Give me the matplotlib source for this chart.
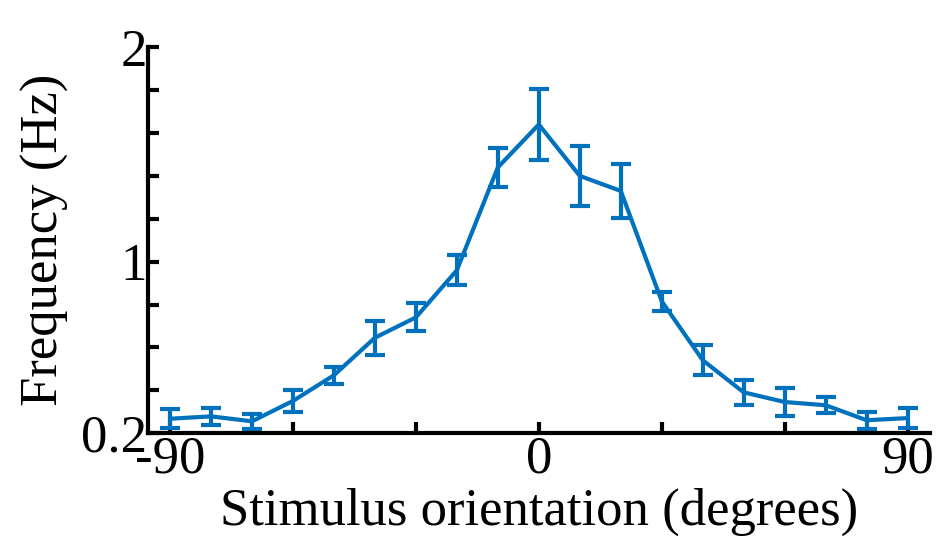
import matplotlib
matplotlib.use("Agg")
import matplotlib.pyplot as plt
import numpy as np

orientation = [-90, -80, -70, -60, -50, -40, -30, -20, -10, 0, 10, 20, 30, 40, 50, 60, 70, 80, 90]
frequency = [0.267, 0.278, 0.255, 0.35, 0.47, 0.645, 0.74, 0.96, 1.44, 1.64, 1.40, 1.33, 0.815, 0.54, 0.39, 0.345, 0.33, 0.26, 0.27]
err = [0.045, 0.04, 0.035, 0.05, 0.04, 0.08, 0.065, 0.07, 0.09, 0.165, 0.14, 0.125, 0.045, 0.07, 0.06, 0.065, 0.037, 0.04, 0.045]

xticks = [-90, -60, -30, 0, 30, 60, 90]
xticklabels = ["-90", "", "", "0", "", "", "90"]
yticks = [0.2, 0.4, 0.6, 0.8, 1.0, 1.2, 1.4, 1.6, 1.8, 2.0]
yticklabels = ["0.2", "", "", "", "1", "", "", "", "", "2"]

plt.rcParams['font.family'] = ['Liberation Serif', 'DejaVu Serif']
color = '#0072BD'

fig = plt.figure(figsize=(9.42, 5.38), dpi=100)
ax = fig.add_axes([0.157, 0.195, 0.83, 0.717])
ax.errorbar(orientation, frequency, yerr=err, color=color, lw=3, elinewidth=3,
            capsize=7.5, capthick=3)
ax.set_xlim(-95.4, 95.4)
ax.set_ylim(0.2, 2.0)
ax.set_xticks(xticks)
ax.set_xticklabels(xticklabels)
ax.set_yticks(yticks)
ax.set_yticklabels(yticklabels)
ax.tick_params(direction='in', length=8, width=3, labelsize=38, pad=2)
ax.tick_params(axis='y', pad=1)
for s in ['top', 'right']:
    ax.spines[s].set_visible(False)
for s in ['left', 'bottom']:
    ax.spines[s].set_linewidth(3)
ax.set_xlabel('Stimulus orientation (degrees)', fontsize=38, labelpad=3)
ax.set_ylabel('Frequency (Hz)', fontsize=38, labelpad=8)
fig.savefig('out.png', dpi=100)
